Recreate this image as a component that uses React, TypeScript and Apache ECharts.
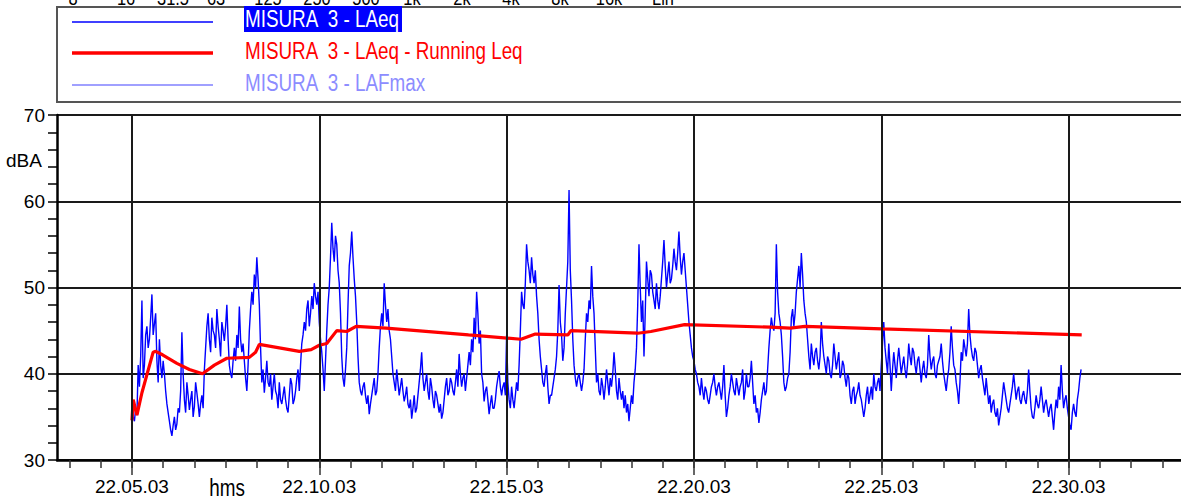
import React, { useEffect, useRef } from "react";
import * as echarts from "echarts";

// time values are seconds after 22:00:03 (300 -> 22.05.03)
const LAEQ_START = 300;
const LAEQ_STEP = 2;
const LAEQ = [
  37.2, 35.0, 34.5, 36.0, 35.2, 41.0, 38.5, 42.0, 48.5, 39.5,
  41.0, 44.5, 45.5, 43.0, 44.0, 46.5, 49.2, 44.5, 45.8, 47.0,
  41.5, 39.0, 44.0, 41.0, 39.5, 41.5, 40.0, 38.0, 36.5, 35.5,
  34.5, 33.5, 32.8, 34.0, 35.0, 33.5, 34.2, 36.0, 35.5, 38.0,
  44.8, 40.0, 37.0, 35.5, 39.0, 37.5, 35.8, 37.0, 38.0, 35.0,
  36.2, 39.0, 37.8, 36.5, 35.0, 36.5, 37.5, 36.0, 40.5, 43.0,
  45.5, 47.0, 44.0, 42.5, 46.5, 45.0, 44.5, 43.0, 47.5, 45.5,
  44.0, 42.0, 46.0, 45.0, 43.8, 45.5, 48.0, 44.0, 41.0, 40.0,
  39.5, 41.5, 43.0, 41.5, 44.5, 43.0, 47.8, 44.0, 42.5, 43.5,
  41.5, 39.5, 38.0, 41.0, 45.0, 47.5, 49.5, 48.0, 51.5, 50.0,
  53.5, 51.0, 48.0, 43.0, 39.0, 40.5, 37.8, 39.5, 41.5, 39.0,
  38.5, 40.0, 37.0, 38.5, 40.0, 38.0, 37.5, 36.0, 39.0, 37.0,
  36.5, 37.5, 38.5, 37.0, 36.0, 35.5, 37.5, 39.5, 38.8, 36.5,
  37.0, 38.0, 39.5, 40.5, 38.0, 41.0, 43.5, 44.5, 46.0, 45.0,
  47.5, 48.5, 45.5, 47.0, 49.0, 47.5, 50.5, 49.0, 48.0, 49.5,
  46.0, 44.0, 42.5, 40.5, 38.0, 41.5, 45.0, 48.0, 50.0, 53.5,
  57.5, 54.5, 53.0, 56.0, 55.0, 52.0, 50.5, 47.0, 42.0, 39.5,
  38.5, 40.5, 43.0, 48.0, 52.5, 54.0, 56.5, 53.5, 51.0, 49.0,
  46.0, 42.0, 39.0, 38.0, 37.5, 38.5, 39.0, 37.5, 36.5, 37.5,
  35.3, 36.5, 37.5, 38.5, 39.5, 37.5, 38.0, 40.0, 43.0, 45.5,
  47.0, 45.5, 50.5, 48.0, 46.0, 47.5, 45.0, 44.0, 42.0, 40.0,
  39.0, 38.0, 40.5, 39.0, 37.5, 38.5, 39.5, 38.0, 36.8, 37.5,
  38.5, 36.5, 36.0, 37.0, 34.8, 36.0, 37.5, 35.5, 36.0, 37.5,
  39.0, 40.5, 42.5, 39.5, 38.0, 39.0, 40.0, 38.0, 37.0, 39.5,
  38.5, 37.0, 36.0, 38.0, 37.5, 36.5, 35.5, 36.5, 34.8, 35.5,
  37.0, 38.5, 39.5, 37.5, 38.0, 39.5, 39.0, 38.0, 37.5, 39.0,
  40.5, 38.5, 42.3, 40.0, 38.5, 39.5, 40.0, 38.0, 39.5, 41.0,
  42.5, 41.0, 44.0, 42.5, 46.5, 44.0, 49.5, 47.0, 43.5, 45.0,
  40.0, 39.0, 36.8, 38.0, 38.5, 37.0, 35.3, 36.5, 37.5, 36.0,
  36.0, 37.0, 38.5, 39.5, 40.3, 38.5, 37.5, 38.5, 39.0, 37.5,
  44.5, 39.0, 37.0, 36.0, 38.5, 37.0, 36.0, 37.5, 39.0, 38.0,
  41.0, 45.0, 49.5, 48.0, 47.5, 50.5, 55.0, 53.0, 52.0, 50.5,
  53.5, 51.5, 50.5, 52.0, 49.0, 47.0, 44.0, 42.0, 40.5, 39.0,
  38.5, 40.0, 41.0, 38.5, 36.5, 37.5, 37.5, 38.5, 39.5, 40.5,
  42.0, 45.0, 50.3, 46.0, 44.5, 41.5, 43.0, 47.0, 50.0, 53.0,
  61.3, 52.0, 48.5, 44.0, 41.0, 39.5, 38.5, 39.5, 40.0, 39.0,
  38.0, 39.0, 40.5, 44.0, 47.0, 46.0, 48.5, 47.5, 52.5, 49.0,
  47.0, 43.0, 39.0, 40.0, 38.0, 37.5, 39.5, 38.5, 37.0, 38.5,
  40.5, 39.0, 37.5, 39.5, 38.5, 40.0, 42.5, 40.5, 38.0, 37.0,
  39.5, 38.0, 37.0, 38.0, 36.0, 37.5, 35.5, 36.5, 34.5, 36.0,
  37.5, 36.5, 39.0, 40.5, 43.0, 48.0, 55.0, 50.0, 46.0, 48.5,
  42.0, 47.0, 53.0, 51.0, 49.0, 52.0, 51.5, 49.5, 48.5, 47.5,
  50.5, 48.5, 47.5, 49.0, 51.0, 53.0, 55.5, 52.5, 50.0, 51.5,
  53.0, 50.5, 51.0, 52.5, 54.5, 53.0, 52.0, 54.0, 56.5, 53.5,
  51.5, 53.0, 54.0, 52.0, 50.0, 48.0, 46.0, 44.5, 43.0, 42.0,
  41.5, 40.5, 40.0, 39.0, 38.5, 37.5, 39.5, 38.0, 37.0, 38.5,
  38.0, 37.0, 36.5, 37.5, 38.5, 39.0, 40.0, 38.5, 37.5, 38.5,
  39.0, 38.0, 37.0, 38.5, 41.0, 37.5, 35.0, 36.0, 37.5, 38.5,
  40.0, 39.0, 38.0, 37.5, 39.5, 38.5, 37.5, 38.5, 39.0, 40.5,
  37.0, 38.0, 40.0, 38.5, 38.5, 39.5, 41.5, 39.0, 36.5, 37.5,
  35.5, 36.0, 34.3, 35.5, 37.0, 38.0, 39.0, 37.5, 38.0, 40.5,
  43.0, 45.0, 46.5, 45.5, 45.0, 47.0, 55.0, 49.5, 47.0, 46.0,
  44.5, 42.0, 39.0, 38.0, 38.5, 39.5, 40.0, 42.5, 46.5, 47.5,
  45.5, 47.0, 49.5, 51.0, 52.5, 50.0, 54.0, 51.5, 48.5, 47.0,
  46.0, 44.0,
  42.0, 40.5, 43.5, 42.0, 41.0, 42.5, 43.0, 41.5, 40.5, 42.0,
  46.0, 43.5, 42.0, 41.0, 40.0, 42.0, 41.5, 40.0, 39.5, 41.0,
  43.5, 42.0, 40.5, 41.5, 42.5, 39.5, 40.0, 41.5, 41.0, 39.5,
  38.5, 40.0, 39.5, 37.5, 36.5, 38.0, 38.5, 36.5, 37.5, 38.0,
  39.0, 37.5, 37.0, 36.0, 35.0, 36.0, 37.5, 38.5, 36.5, 37.5,
  38.5, 37.0, 40.0, 38.5, 38.0, 39.0, 39.5, 38.0, 41.0, 43.5,
  46.0, 43.0, 41.5, 40.0, 43.5, 41.0, 38.0, 40.5, 42.5, 41.0,
  39.5, 41.5, 43.0, 41.5, 40.0, 41.0, 42.0, 40.5, 39.5, 41.0,
  43.5, 42.0, 41.0, 43.0, 42.5, 41.0, 40.0, 41.5, 42.0, 40.5,
  39.0, 40.5, 41.5, 40.0, 39.5, 41.0, 44.5, 42.0, 40.5, 41.5,
  42.0, 40.0, 39.5, 41.0, 41.5, 42.0, 43.5, 41.5, 40.0, 39.0,
  38.0, 39.5, 40.5, 42.5, 45.5, 43.0, 41.0, 40.5, 39.0, 38.0,
  36.5, 39.0, 42.5, 41.5, 44.0, 43.0, 42.0, 43.5, 47.5, 44.5,
  43.0, 42.0, 41.5, 43.0, 42.5, 41.0, 39.5, 40.5, 41.0, 39.5,
  38.5, 37.5, 39.5, 38.0, 36.5, 37.5, 35.5, 36.5, 37.0, 35.5,
  35.0, 36.0, 34.0, 35.0, 36.0, 37.5, 39.0, 38.0, 37.0, 36.0,
  35.5, 36.5, 37.5, 38.5, 40.0, 38.5, 37.0, 38.0, 38.5, 37.0,
  36.5, 37.5, 38.0, 37.0, 36.5, 38.0, 40.5, 38.0, 36.0, 35.0,
  34.8, 36.0, 37.5, 36.5, 36.0, 37.0, 38.5, 37.0, 35.5, 36.5,
  37.0, 36.0, 35.0, 36.0, 36.5, 35.0, 33.5, 35.5, 37.0, 36.0,
  38.5, 37.0, 41.0, 38.0, 36.0, 37.0, 37.5, 36.0, 35.0, 34.0,
  33.5, 35.5, 36.5, 35.5, 35.0, 37.0, 38.0, 39.5, 40.5,
];

const RUNNING_T = [
  300, 302, 308, 316, 334, 338, 349, 372, 392, 413, 432, 452, 488, 498, 504,
  568, 587, 600, 612, 628, 644, 659, 707, 839, 923, 946, 998, 1003, 1110,
  1131, 1185, 1322, 1354, 1378, 1501, 1821,
];
const RUNNING_LEQ = [
  34.6, 37.0, 35.2, 37.8, 42.5, 42.6, 42.2, 41.2, 40.5, 40.0, 41.0, 41.8, 41.9,
  42.5, 43.4, 42.6, 42.8, 43.3, 43.5, 45.0, 44.9, 45.5, 45.3, 44.5, 44.0, 44.6,
  44.5, 45.0, 44.7, 44.9, 45.7, 45.4, 45.3, 45.5, 45.2, 44.5,
];

const X_MAJOR = [300, 600, 900, 1200, 1500, 1800];
const X_MINOR_STEP = 50;
const X_MIN = 180;
const X_MAX = 1980;
const Y_MIN = 30;
const Y_MAX = 70;

const LEGEND_NAMES = [
  "MISURA  3 - LAeq",
  "MISURA  3 - LAeq - Running Leq",
  "MISURA  3 - LAFmax",
];
const LEGEND_COLORS = ["#0000ff", "#ff0000", "#8080ff"];
const HEADER_LABELS = ["8", "16", "31.5", "63", "125", "250", "500", "1k", "2k", "4k", "8k", "16k", "Lin"];
const HEADER_X = [73, 126, 173, 216, 268, 317, 366, 412, 462, 511, 560, 609, 663];

const REGULAR = '"Liberation Sans", Arial, sans-serif';
const NARROW_SCALE = 0.82;

function fmtTime(t: number): string {
  const total = Math.round(t) + 3;
  const mm = Math.floor(total / 60);
  const ss = total % 60;
  const p = (n: number) => (n < 10 ? "0" + n : "" + n);
  return "22." + p(mm) + "." + p(ss);
}

function buildOption() {
  const minorTicks: number[] = [];
  for (let v = 200; v < X_MAX; v += X_MINOR_STEP) minorTicks.push(v);

  const graphic: any[] = [];
  HEADER_LABELS.forEach((t, i) => {
    graphic.push({
      type: "text",
      x: HEADER_X[i],
      y: 8,
      scaleX: NARROW_SCALE,
      style: { text: t, fill: "#000", font: "20px " + REGULAR, align: "center", verticalAlign: "bottom" },
    });
  });
  graphic.push({
    type: "rect",
    shape: { x: 57, y: 7, width: 1140, height: 95 },
    style: { fill: "#fff", stroke: "#555", lineWidth: 2 },
  });
  const rowY = [22, 53, 85];
  const textY = [19, 51, 83];
  const widths = [1.5, 3.5, 1.5];
  LEGEND_NAMES.forEach((name, i) => {
    graphic.push({
      type: "line",
      shape: { x1: 72, y1: rowY[i], x2: 213, y2: rowY[i] },
      style: { stroke: LEGEND_COLORS[i], lineWidth: widths[i] },
    });
    if (i === 0) {
      graphic.push({
        type: "rect",
        shape: { x: 244, y: 6, width: 158, height: 26 },
        style: { fill: "#0000ff" },
      });
    }
    graphic.push({
      type: "text",
      x: 245,
      y: textY[i],
      scaleX: NARROW_SCALE,
      style: {
        text: name,
        fill: i === 0 ? "#ffffff" : i === 1 ? "#ff0000" : "#8c8cff",
        font: "23px " + REGULAR,
        align: "left",
        verticalAlign: "middle",
      },
    });
  });
  graphic.push({
    type: "text",
    x: 6,
    y: 160,
    style: { text: "dBA", fill: "#000", font: "19px " + REGULAR, align: "left", verticalAlign: "middle" },
  });
  graphic.push({
    type: "text",
    x: 227,
    y: 488,
    scaleX: NARROW_SCALE,
    style: { text: "hms", fill: "#000", font: "23px " + REGULAR, align: "center", verticalAlign: "middle" },
  });

  return {
    animation: false,
    backgroundColor: "#fff",
    grid: { left: 57, right: -5, top: 115, bottom: 42, containLabel: false },
    xAxis: [
      {
        type: "value",
        min: X_MIN,
        max: X_MAX,
        position: "bottom",
        axisLine: { show: true, lineStyle: { color: "#000", width: 2.5 } },
        axisTick: { show: true, customValues: minorTicks, length: 8, lineStyle: { color: "#333", width: 1.5 } },
        axisLabel: { show: false },
        splitLine: { show: false },
      },
      {
        type: "value",
        min: X_MIN,
        max: X_MAX,
        position: "bottom",
        axisLine: { show: false },
        axisTick: { show: true, customValues: X_MAJOR, length: 15, lineStyle: { color: "#333", width: 1.5 } },
        axisLabel: {
          show: true,
          customValues: X_MAJOR,
          formatter: (v: number) => fmtTime(v),
          fontSize: 19,
          fontFamily: REGULAR,
          color: "#000",
          margin: 17,
        },
        splitLine: { show: false },
      },
    ],
    yAxis: {
      type: "value",
      min: Y_MIN,
      max: Y_MAX,
      interval: 10,
      axisLine: { show: true, lineStyle: { color: "#000", width: 2.5 } },
      axisTick: { show: true, length: 9, lineStyle: { color: "#000", width: 1.5 } },
      minorTick: { show: true, splitNumber: 5, length: 9, lineStyle: { color: "#000", width: 1.5 } },
      minorSplitLine: { show: false },
      splitLine: { show: true, lineStyle: { color: "#1a1a1a", width: 2 } },
      axisLabel: { fontSize: 19, fontFamily: REGULAR, color: "#000", margin: 12 },
    },
    graphic,
    series: [
      {
        type: "line",
        data: [],
        silent: true,
        z: 1,
        markLine: {
          silent: true,
          animation: false,
          symbol: ["none", "none"],
          label: { show: false },
          lineStyle: { color: "#1a1a1a", width: 2, type: "solid" },
          emphasis: { disabled: true },
          data: X_MAJOR.map((v) => ({ xAxis: v })),
        },
      },
      {
        name: LEGEND_NAMES[0],
        type: "line",
        z: 3,
        showSymbol: false,
        symbol: "none",
        silent: true,
        emphasis: { disabled: true },
        lineStyle: { color: "#0000ff", width: 1.4 },
        data: LAEQ.map((v, i) => [LAEQ_START + i * LAEQ_STEP, v]),
      },
      {
        name: LEGEND_NAMES[1],
        type: "line",
        z: 4,
        showSymbol: false,
        symbol: "none",
        silent: true,
        emphasis: { disabled: true },
        lineStyle: { color: "#ff0000", width: 3.2 },
        data: RUNNING_T.map((t, i) => [t, RUNNING_LEQ[i]]),
      },
    ],
  };
}

export default function App() {
  const ref = useRef<HTMLDivElement>(null);
  useEffect(() => {
    document.body.style.margin = "0";
    const chart = echarts.init(ref.current!, null, { renderer: "svg" });
    chart.setOption(buildOption() as any);
    return () => chart.dispose();
  }, []);
  return (
    <div
      ref={ref}
      style={{ position: "absolute", left: 0, top: 0, width: 1181, height: 502, overflow: "hidden", background: "#fff" }}
    />
  );
}
